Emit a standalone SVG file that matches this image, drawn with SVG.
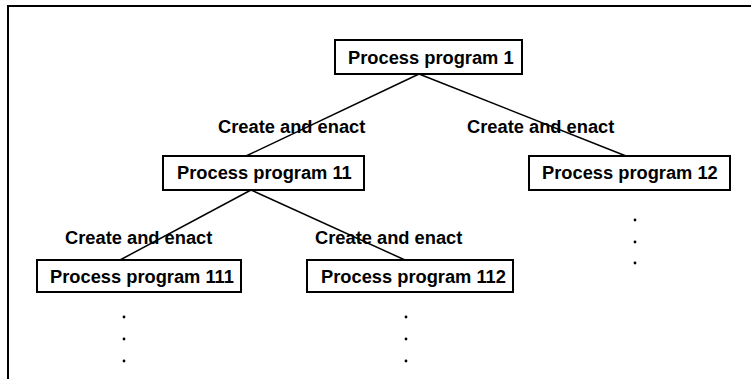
<svg xmlns="http://www.w3.org/2000/svg" width="751" height="379" viewBox="0 0 751 379">
<style>
.box{fill:#fff;stroke:#000;stroke-width:2}
.t{font-family:"Liberation Sans",Arial,sans-serif;font-weight:bold;font-size:18.3px;fill:#000}
.c{stroke:#000;stroke-width:1.5;fill:none}
.d{fill:#000}
</style>
<rect width="751" height="379" fill="#fff"/>
<path d="M751 6 H8 V379" fill="none" stroke="#000" stroke-width="2"/>
<g id="connectors">
<line class="c" x1="419" y1="74" x2="246" y2="156"/>
<line class="c" x1="419" y1="74" x2="626" y2="156"/>
<line class="c" x1="251" y1="190" x2="120" y2="260"/>
<line class="c" x1="251" y1="190" x2="405" y2="260"/>
</g>
<g id="labels">
<text class="t" x="218" y="133">Create and enact</text>
<text class="t" x="467" y="133">Create and enact</text>
<text class="t" x="65" y="244">Create and enact</text>
<text class="t" x="315" y="244">Create and enact</text>
</g>
<g id="node1">
<rect class="box" x="335" y="40" width="187" height="34"/>
<text class="t" x="348" y="64">Process program 1</text>
</g>
<g id="node11">
<rect class="box" x="163" y="156" width="201" height="34"/>
<text class="t" x="177" y="179">Process program 11</text>
</g>
<g id="node12">
<rect class="box" x="529" y="156" width="201" height="34"/>
<text class="t" x="542" y="179">Process program 12</text>
</g>
<g id="node111">
<rect class="box" x="37" y="260" width="204" height="32"/>
<text class="t" x="50" y="283">Process program 111</text>
</g>
<g id="node112">
<rect class="box" x="307" y="260" width="206" height="32"/>
<text class="t" x="321" y="283">Process program 112</text>
</g>
<g id="dots">
<circle class="d" cx="635" cy="220" r="1.4"/>
<circle class="d" cx="635" cy="242" r="1.4"/>
<circle class="d" cx="635" cy="263" r="1.4"/>
<circle class="d" cx="124" cy="317" r="1.4"/>
<circle class="d" cx="124" cy="339" r="1.4"/>
<circle class="d" cx="124" cy="361" r="1.4"/>
<circle class="d" cx="406" cy="317" r="1.4"/>
<circle class="d" cx="406" cy="339" r="1.4"/>
<circle class="d" cx="406" cy="361" r="1.4"/>
</g>
</svg>
